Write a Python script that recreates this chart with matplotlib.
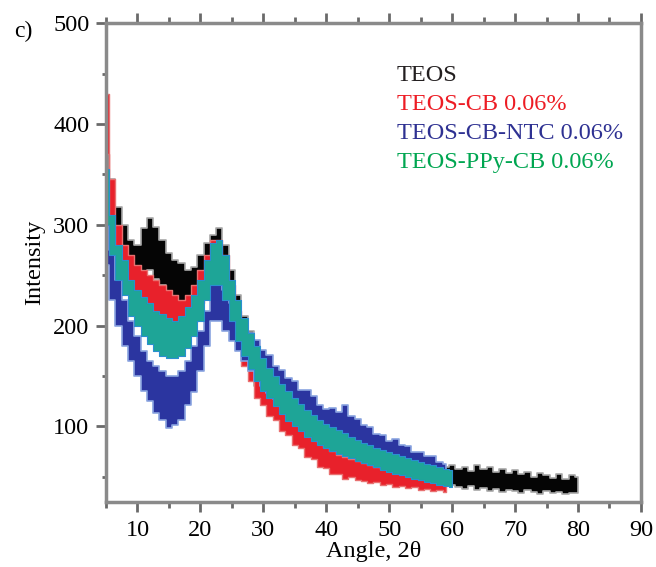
import matplotlib
matplotlib.use("Agg")
import matplotlib.pyplot as plt
import numpy as np

# XRD bands: angle (2 theta), lower and upper edge of each noisy trace
ang_teos = list(range(5, 81))
teos_lo = [340, 305, 288, 268, 255, 250, 248, 255, 246, 240, 230, 222, 212, 214, 218, 232, 245, 255, 255, 240,
           212, 190, 170, 155, 140, 130, 122, 115, 108, 100, 95, 90, 85, 80, 77, 75, 72, 70, 67, 65,
           62, 60, 58, 55, 54, 52, 51, 50, 49, 48, 46, 45, 44, 43, 42, 42, 40, 38, 41, 37,
           39, 36, 38, 35, 37, 36, 34, 37, 35, 33, 36, 34, 35, 33, 34, 34]
teos_hi = [385, 345, 318, 300, 285, 280, 297, 307, 298, 285, 272, 265, 262, 255, 258, 270, 282, 290, 297, 280,
           255, 230, 210, 195, 180, 165, 155, 145, 137, 130, 122, 115, 110, 105, 100, 97, 94, 92, 90, 86,
           82, 80, 78, 75, 73, 72, 70, 68, 66, 65, 64, 62, 61, 60, 60, 62, 58, 60, 56, 62,
           58, 60, 55, 58, 54, 57, 53, 55, 50, 54, 52, 49, 53, 48, 52, 50]

ang_cb = list(range(5, 60))
cb_lo = [370, 300, 260, 245, 232, 226, 214, 216, 208, 205, 198, 196, 192, 197, 204, 222, 238, 250, 248, 235,
         200, 180, 160, 145, 128, 121, 110, 106, 95, 91, 82, 79, 70, 68, 60, 59, 53, 53, 48, 50,
         47, 46, 44, 45, 42, 43, 40, 41, 39, 40, 37, 38, 36, 37, 35]
cb_hi = [430, 345, 300, 280, 270, 260, 255, 250, 245, 240, 235, 230, 225, 230, 240, 255, 270, 285, 285, 270,
         240, 215, 195, 175, 160, 150, 140, 130, 122, 115, 108, 102, 96, 90, 85, 80, 76, 72, 70, 68,
         66, 64, 62, 60, 58, 57, 56, 55, 54, 53, 52, 51, 50, 50, 49]

ang_ntc = list(range(5, 60))
ntc_lo = [260, 225, 200, 180, 165, 150, 135, 125, 113, 106, 98, 101, 106, 121, 134, 155, 180, 205, 205, 195,
          185, 175, 165, 155, 145, 140, 133, 127, 120, 116, 111, 106, 102, 97, 94, 92, 90, 89, 86, 82,
          78, 75, 72, 69, 67, 65, 63, 59, 56, 53, 51, 49, 47, 45, 44]
ntc_hi = [330, 275, 245, 225, 205, 190, 175, 165, 160, 155, 150, 150, 155, 165, 180, 195, 215, 240, 240, 235,
          222, 213, 206, 193, 186, 176, 171, 160, 156, 148, 145, 136, 136, 130, 121, 117, 118, 114, 121, 110,
          107, 101, 99, 92, 91, 86, 88, 82, 81, 75, 75, 71, 71, 65, 63]

ang_ppy = list(range(5, 61))
ppy_lo = [300, 270, 245, 230, 210, 200, 190, 182, 175, 170, 168, 168, 170, 178, 190, 205, 225, 240, 240, 225,
          205, 185, 170, 157, 145, 135, 128, 120, 112, 105, 100, 95, 90, 86, 82, 79, 76, 73, 71, 69,
          66, 64, 62, 60, 57, 55, 53, 52, 50, 48, 47, 45, 44, 42, 41, 40]
ppy_hi = [355, 310, 280, 265, 245, 235, 228, 222, 215, 212, 208, 205, 210, 218, 230, 245, 265, 282, 285, 270,
          245, 225, 208, 193, 180, 168, 158, 150, 142, 135, 128, 122, 116, 111, 106, 102, 99, 96, 93, 90,
          87, 84, 82, 79, 77, 75, 73, 71, 69, 67, 65, 63, 62, 60, 58, 57]

labels = ["TEOS", "TEOS-CB 0.06%", "TEOS-CB-NTC 0.06%", "TEOS-PPy-CB 0.06%"]
text_colors = ["#231f20", "#ed1c24", "#2e3192", "#00a651"]

plt.rcParams["font.family"] = ["Liberation Serif", "DejaVu Serif"]

fig = plt.figure(figsize=(6.56, 5.67), dpi=100)
ax = fig.add_axes([0.1616, 0.1146, 0.8154, 0.8444])

# black first, green ends up on top like in the original
ax.fill_between(ang_teos, teos_lo, teos_hi, step="mid", facecolor="#050505", edgecolor="#a8a8a8", lw=1.2)
ax.fill_between(ang_cb, cb_lo, cb_hi, step="mid", facecolor="#e8212b", edgecolor="#e87070", lw=1.0)
ax.fill_between(ang_ntc, ntc_lo, ntc_hi, step="mid", facecolor="#2b35a0", edgecolor="#8aa4e0", lw=1.2)
ax.fill_between(ang_ppy, ppy_lo, ppy_hi, step="mid", facecolor="#1ea597", edgecolor="#2a8fd0", lw=0.8)

ax.set_xlim(5, 90)
ax.set_ylim(25, 500)
ax.set_xticks(range(10, 91, 10))
ax.set_xticks(range(5, 91, 5), minor=True)
ax.set_yticks([100, 200, 300, 400, 500])
ax.set_yticks([50, 150, 250, 350, 450], minor=True)

for side in ["left", "bottom", "top", "right"]:
    ax.spines[side].set_color("#8a8a8a")
    ax.spines[side].set_linewidth(2.5)

ax.tick_params(which="both", direction="out", color="#6a6a6a", width=2, labelsize=17.5, top=True, right=False)
ax.tick_params(which="major", length=7)
ax.tick_params(axis="x", which="major", pad=6)
ax.tick_params(axis="y", which="major", pad=5)
ax.tick_params(which="minor", length=4)
ax.tick_params(axis="y", which="minor", length=3)

ax.set_xlabel("Angle, 2θ", fontsize=17.5, labelpad=0)
ax.set_ylabel("Intensity", fontsize=17.5, labelpad=6)

for i, (lab, col) in enumerate(zip(labels, text_colors)):
    ax.text(0.544, 0.890 - i * 0.0605, lab, color=col, fontsize=17.5, transform=ax.transAxes, va="center")

fig.text(0.021, 0.944, "c)", fontsize=17, va="center")

fig.savefig("out.png", dpi=100)
